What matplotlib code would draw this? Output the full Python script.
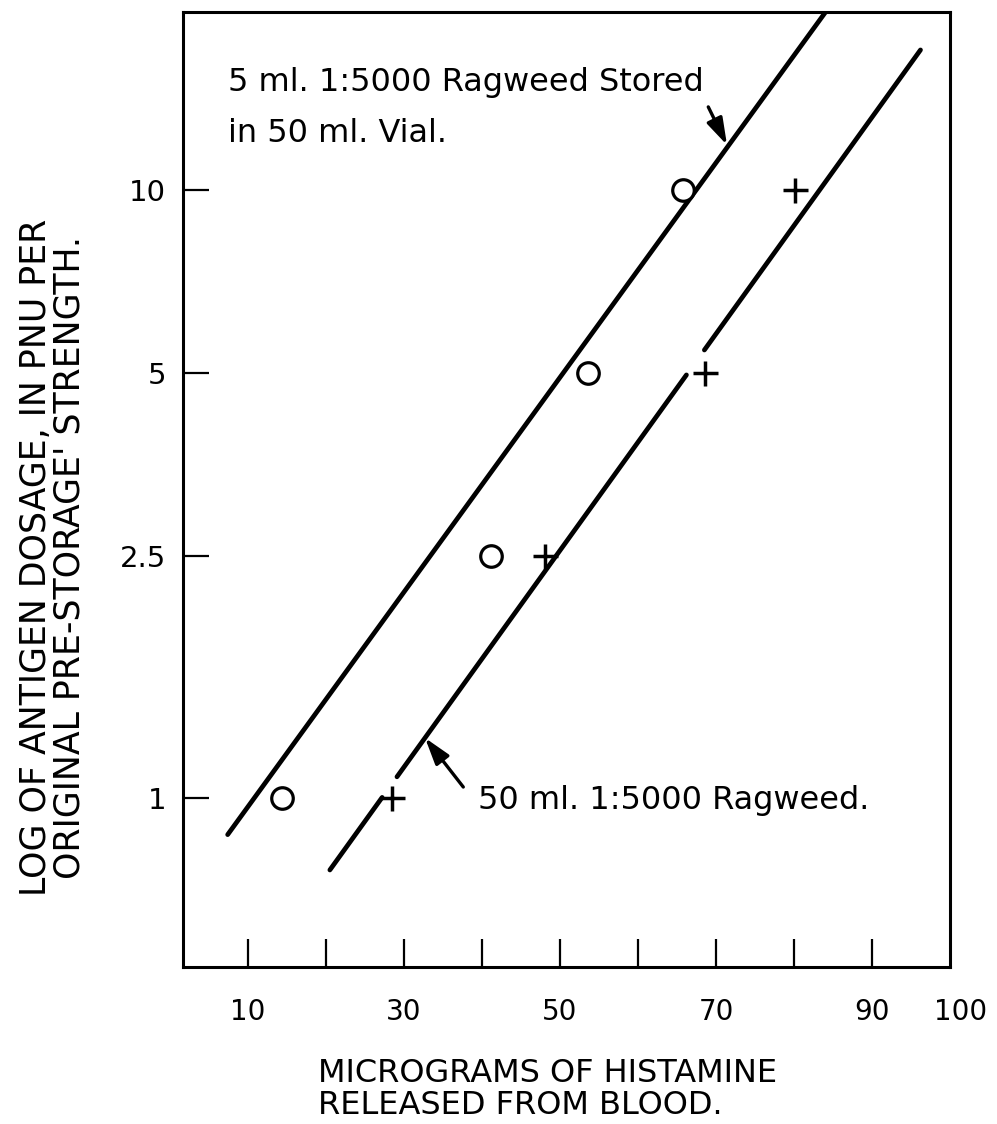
import numpy as np
import matplotlib
matplotlib.use("Agg")
import matplotlib.pyplot as plt

plt.rcParams['font.family'] = ['DejaVu Sans']

# Histamine released (micrograms) vs antigen dosage (PNU, log scale)
stored_x = [14.4, 41.2, 53.6, 65.8]
stored_y = [1.0, 2.5, 5.0, 10.0]
fresh_x = [28.5, 48.1, 68.6, 80.1]
fresh_y = [1.0, 2.5, 5.0, 10.0]

# Fitted lines: (x, y) endpoints
stored_line_x = [7.4, 84.0]
stored_line_y = [0.87, 19.6]
fresh_line_x = [20.5, 96.2]
fresh_line_y = [0.761, 17.0]
# breaks in the fitted line around crossing markers (x ranges)
fresh_line_gaps = [(27.2, 29.1), (66.2, 68.5)]

x_ticks = [10, 20, 30, 40, 50, 60, 70, 80, 90]
x_tick_labels = ['10', '', '30', '', '50', '', '70', '', '90']
y_ticks = [1, 2.5, 5, 10]
y_tick_labels = ['1', '2.5', '5', '10']

fig = plt.figure(figsize=(9.97, 11.24), dpi=100)
ax = fig.add_axes([0.1835, 0.1397, 0.953 - 0.1835, 0.989 - 0.1397])
ax.set_yscale('log')
ax.set_xlim(1.67, 100)
ax.set_ylim(0.527, 19.6)

lw = 3.4

def line_y(xs, ys, x):
    lx = np.log10(ys)
    t = (x - xs[0]) / (xs[1] - xs[0])
    return 10 ** (lx[0] + t * (lx[1] - lx[0]))

ax.plot(stored_line_x, stored_line_y, color='black', lw=lw, solid_capstyle='round')

# fresh line drawn in pieces between the gaps
bounds = [fresh_line_x[0]]
for a, b in fresh_line_gaps:
    bounds += [a, b]
bounds.append(fresh_line_x[1])
for i in range(0, len(bounds), 2):
    xa, xb = bounds[i], bounds[i + 1]
    ax.plot([xa, xb], [line_y(fresh_line_x, fresh_line_y, xa), line_y(fresh_line_x, fresh_line_y, xb)],
            color='black', lw=lw, solid_capstyle='round')

ax.plot(stored_x, stored_y, linestyle='none', marker='o', markersize=15.5,
        markerfacecolor='white', markeredgecolor='black', markeredgewidth=2.3)
ax.plot(fresh_x, fresh_y, linestyle='none', marker='+', markersize=18,
        markeredgecolor='black', markeredgewidth=2.5)

ax.set_xticks(x_ticks)
ax.set_xticklabels(x_tick_labels)
ax.set_yticks(y_ticks)
ax.set_yticklabels(y_tick_labels)
ax.minorticks_off()
ax.tick_params(axis='x', direction='in', length=20, width=1.6, pad=22, labelsize=20)
ax.tick_params(axis='y', direction='in', length=19, width=1.6, pad=12, labelsize=21)
ax.text(101.3, -0.0325, '100', transform=ax.get_xaxis_transform(), ha='center', va='top',
        fontsize=20, clip_on=False)

for s in ax.spines.values():
    s.set_linewidth(2.2)

arrow_style = dict(arrowstyle='-|>,head_length=0.9,head_width=0.28', color='black', lw=2.4,
                   mutation_scale=18, shrinkA=0, shrinkB=0)
ax.annotate('', xy=(71.4, 11.86), xytext=(69.0, 13.7), arrowprops=arrow_style)
ax.annotate('', xy=(32.7, 1.255), xytext=(37.6, 1.042), arrowprops=arrow_style)

ax.text(7.4, 15.0, '5 ml. 1:5000 Ragweed Stored', fontsize=23, ha='left', va='center')
ax.text(7.4, 12.4, 'in 50 ml. Vial.', fontsize=23, ha='left', va='center')
ax.text(39.5, 0.99, '50 ml. 1:5000 Ragweed.', fontsize=23, ha='left', va='center')

fig.text(0.036, 0.504, 'LOG OF ANTIGEN DOSAGE, IN PNU PER', rotation=90, fontsize=25,
         ha='center', va='center')
fig.text(0.070, 0.504, "ORIGINAL PRE-STORAGE' STRENGTH.", rotation=90, fontsize=25,
         ha='center', va='center')
fig.text(0.319, 1 - 1073 / 1124, 'MICROGRAMS OF HISTAMINE', fontsize=23, ha='left', va='center')
fig.text(0.319, 1 - 1105 / 1124, 'RELEASED FROM BLOOD.', fontsize=23, ha='left', va='center')

fig.savefig('out.png', dpi=100)
